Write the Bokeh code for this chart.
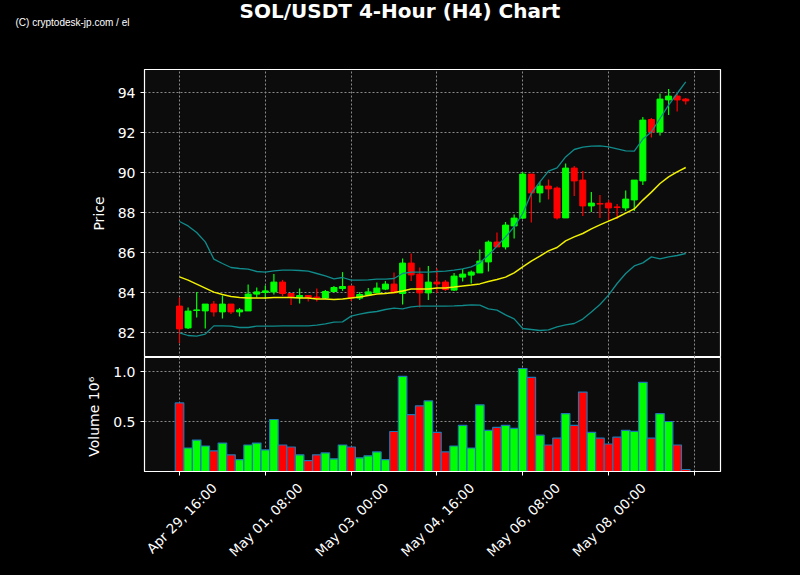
import numpy as np
import pandas as pd
from math import pi
from bokeh.plotting import figure
from bokeh.layouts import column
from bokeh.models import (ColumnDataSource, FixedTicker, Range1d, Label, LinearAxis,
                          NumeralTickFormatter, GlobalInlineStyleSheet)
from bokeh.embed import file_html
from bokeh.resources import INLINE

TITLE = "SOL/USDT 4-Hour (H4) Chart"
CREDIT = "(C) cryptodesk-jp.com / el"
START = "2025-04-29 16:00"

opens = [83.32, 82.23, 83.10, 83.08, 83.42, 83.03, 83.42, 83.03, 83.08, 83.92,
         84.00, 84.03, 84.52, 83.95, 83.75, 83.85, 83.77, 83.72, 84.05, 84.20,
         84.32, 83.72, 83.87, 84.00, 84.17, 84.42, 83.95, 85.47, 84.92, 83.98,
         84.52, 84.52, 84.12, 84.77, 84.87, 84.98, 85.53, 86.52, 86.28, 87.33,
         87.72, 89.92, 88.98, 89.32, 89.22, 87.73, 90.22, 89.62, 88.33, 88.45,
         88.47, 88.28, 88.23, 88.63, 89.58, 92.65, 92.03, 93.63, 93.82, 93.67]
highs = [83.75, 83.25, 84.03, 83.42, 83.58, 83.85, 83.42, 83.22, 84.40, 84.25,
         84.35, 84.92, 84.63, 83.95, 84.20, 83.85, 84.20, 84.13, 84.33, 85.02,
         84.32, 84.03, 84.23, 84.50, 84.57, 85.00, 85.70, 85.95, 85.25, 85.33,
         85.20, 84.62, 84.98, 85.17, 85.10, 86.15, 86.60, 87.00, 87.53, 87.90,
         90.03, 89.92, 89.53, 89.65, 89.30, 90.45, 90.32, 90.08, 89.03, 88.88,
         88.62, 88.42, 89.10, 89.62, 92.78, 92.72, 93.95, 94.18, 93.95, 93.73]
lows = [81.48, 82.18, 82.75, 82.20, 82.80, 82.70, 82.92, 82.80, 83.08, 83.75,
        83.68, 83.90, 83.82, 83.37, 83.45, 83.55, 83.55, 83.67, 84.00, 84.08,
        83.58, 83.62, 83.82, 84.00, 84.12, 83.98, 83.40, 84.57, 83.25, 83.62,
        83.98, 84.08, 84.08, 84.55, 84.45, 84.98, 85.05, 86.28, 86.15, 86.70,
        87.67, 87.50, 88.50, 88.65, 87.65, 87.73, 88.82, 87.82, 88.02, 87.72,
        87.62, 87.67, 88.08, 88.07, 89.37, 91.75, 91.85, 92.87, 93.05, 93.40]
closes = [82.18, 83.07, 83.13, 83.42, 83.03, 83.42, 83.03, 83.13, 83.92, 84.03,
          84.08, 84.52, 83.95, 83.78, 83.85, 83.75, 83.72, 84.05, 84.25, 84.30,
          83.73, 83.90, 84.03, 84.22, 84.42, 83.98, 85.47, 84.88, 83.98, 84.52,
          84.43, 84.15, 84.82, 84.92, 85.02, 85.57, 86.52, 86.28, 87.37, 87.72,
          89.92, 88.98, 89.32, 89.18, 87.73, 90.22, 89.58, 88.33, 88.47, 88.42,
          88.23, 88.25, 88.67, 89.62, 92.62, 92.03, 93.67, 93.82, 93.63, 93.58]
bb_mid = [84.78, 84.62, 84.42, 84.22, 84.02, 83.90, 83.80, 83.75, 83.73, 83.73,
          83.73, 83.75, 83.75, 83.75, 83.73, 83.72, 83.68, 83.67, 83.65, 83.67,
          83.73, 83.78, 83.85, 83.92, 83.95, 84.00, 84.08, 84.17, 84.18, 84.18,
          84.22, 84.23, 84.27, 84.32, 84.37, 84.43, 84.55, 84.65, 84.77, 84.98,
          85.28, 85.57, 85.82, 86.08, 86.25, 86.58, 86.78, 86.95, 87.18, 87.38,
          87.57, 87.75, 87.97, 88.18, 88.62, 89.02, 89.45, 89.78, 90.03, 90.25]
bb_upper = [87.55, 87.33, 87.00, 86.53, 85.67, 85.45, 85.25, 85.20, 85.17, 85.05,
            85.02, 85.08, 85.12, 85.12, 85.10, 85.07, 84.95, 84.83, 84.68, 84.75,
            84.62, 84.62, 84.63, 84.67, 84.67, 84.70, 84.95, 85.02, 85.02, 85.02,
            85.05, 85.07, 85.12, 85.18, 85.28, 85.48, 85.87, 86.32, 86.78, 87.28,
            87.95, 88.95, 89.53, 90.07, 90.23, 90.78, 91.15, 91.27, 91.32, 91.33,
            91.28, 91.18, 91.08, 91.07, 91.67, 92.03, 92.70, 93.37, 93.95, 94.53]
bb_lower = [81.98, 81.85, 81.82, 81.92, 82.33, 82.33, 82.32, 82.25, 82.25, 82.32,
            82.32, 82.32, 82.33, 82.33, 82.33, 82.33, 82.37, 82.43, 82.52, 82.53,
            82.82, 82.92, 83.00, 83.05, 83.15, 83.22, 83.18, 83.28, 83.32, 83.32,
            83.32, 83.32, 83.33, 83.35, 83.38, 83.37, 83.18, 83.12, 82.88, 82.68,
            82.20, 82.15, 82.10, 82.13, 82.28, 82.38, 82.45, 82.67, 83.03, 83.40,
            83.87, 84.45, 84.95, 85.33, 85.48, 85.78, 85.68, 85.78, 85.85, 85.95]
volume_millions = [0.686, 0.235, 0.314, 0.255, 0.206, 0.284, 0.167, 0.118, 0.265, 0.284,
                   0.216, 0.520, 0.265, 0.245, 0.167, 0.108, 0.167, 0.186, 0.127, 0.265,
                   0.245, 0.137, 0.157, 0.196, 0.118, 0.400, 0.951, 0.569, 0.657, 0.706,
                   0.392, 0.196, 0.255, 0.461, 0.235, 0.667, 0.412, 0.441, 0.461, 0.431,
                   1.030, 0.941, 0.363, 0.265, 0.333, 0.578, 0.461, 0.794, 0.392, 0.333,
                   0.275, 0.343, 0.412, 0.402, 0.892, 0.333, 0.578, 0.500, 0.265, 0.020]
price_ticks = [82, 84, 86, 88, 90, 92, 94]
volume_ticks = [0.5, 1.0]
x_tick_step = 10

UP, DOWN = "#00ff00", "#ff0000"
BG, FRAME_BG = "black", "#0c0c0c"
FONT = "DejaVu Sans"
W = 800
L_BORDER, R_BORDER = 144, 80
HDR_H, PRICE_H, VOL_H = 69, 288, 218
LABEL_SHIFT = 4.05   # centre rotated date labels on their ticks (matplotlib style)

n = len(opens)
times = pd.date_range(START, periods=n, freq="4h")
idx = np.arange(n)
o = np.array(opens); c = np.array(closes)
colors = np.where(c >= o, UP, DOWN)
src = ColumnDataSource(dict(
    x=idx, high=highs, low=lows, top=np.maximum(o, c), bottom=np.minimum(o, c),
    color=colors, vol=volume_millions, mid=bb_mid, upper=bb_upper, lower=bb_lower))

x_ticks = list(range(0, n + 1, x_tick_step))
label_ticks = [t + LABEL_SHIFT for t in x_ticks if t < n]
label_map = {float(t + LABEL_SHIFT): times[t].strftime("%b %d, %H:%M") for t in x_ticks if t < n}

xr = Range1d(-4.08, 63.05)

def style(p):
    p.background_fill_color = FRAME_BG
    p.border_fill_color = BG
    p.outline_line_color = "white"
    p.outline_line_width = 1.2
    for ax in p.axis:
        ax.axis_line_color = "white"
        ax.major_tick_line_color = "white"
        ax.minor_tick_line_color = None
        ax.major_tick_in = 0
        ax.major_tick_out = 4
        ax.major_label_text_color = "white"
        ax.major_label_text_font = FONT
        ax.major_label_text_font_size = "14px"
        ax.axis_label_text_color = "white"
        ax.axis_label_text_font = FONT
        ax.axis_label_text_font_size = "14px"
        ax.axis_label_text_font_style = "normal"
    for g in p.grid:
        g.grid_line_color = "#8a8a8a"
        g.grid_line_dash = "2 2"
        g.grid_line_width = 1

# header: full-width frame (not aligned with the panels); x/y map to page pixels
hdr = figure(width=W, height=HDR_H, x_range=Range1d(0, W), y_range=Range1d(HDR_H, 0),
             x_axis_location=None, y_axis_location=None,
             toolbar_location=None, output_backend="svg", min_border=0)
hdr.frame_align = False
hdr.grid.visible = False
hdr.background_fill_color = BG
hdr.border_fill_color = BG
hdr.outline_line_color = None
hdr.add_layout(Label(x=399.5, y=10.5, text=TITLE, text_align="center",
                     text_baseline="alphabetic", text_font_size="20px",
                     text_font_style="bold", text_color="white", text_font=FONT))
hdr.add_layout(Label(x=15, y=21.5, text=CREDIT, text_align="left",
                     text_baseline="alphabetic", text_font_size="10px",
                     text_color="white", text_font="Liberation Sans"))

# price
p1 = figure(width=W, height=PRICE_H, x_range=xr, y_range=Range1d(80.75, 95.15),
            x_axis_location=None, toolbar_location=None, output_backend="svg",
            min_border_left=L_BORDER, min_border_right=R_BORDER,
            min_border_top=0, min_border_bottom=0)
p1.segment(x0="x", y0="low", x1="x", y1="high", color="color", line_width=1.2, source=src)
p1.vbar(x="x", width=0.7, top="top", bottom="bottom", fill_color="color",
        line_color="color", line_width=1, source=src)
p1.line("x", "upper", color="#108a8a", line_width=1.3, source=src)
p1.line("x", "lower", color="#108a8a", line_width=1.3, source=src)
p1.line("x", "mid", color="#f0f000", line_width=1.5, source=src)
p1.yaxis.ticker = FixedTicker(ticks=price_ticks)
p1.yaxis.axis_label = "Price"
p1.yaxis.axis_label_standoff = 8
p1.xgrid.ticker = FixedTicker(ticks=x_ticks)
style(p1)

# volume
p2 = figure(width=W, height=VOL_H, x_range=xr, y_range=Range1d(0, 1.14),
            toolbar_location=None, output_backend="svg",
            min_border_left=L_BORDER, min_border_right=R_BORDER,
            min_border_top=0, min_border_bottom=VOL_H - 114)
p2.vbar(x="x", width=1.0, top="vol", bottom=0, fill_color="color",
        line_color="#1f77b4", line_width=1.2, source=src)
p2.yaxis.ticker = FixedTicker(ticks=volume_ticks)
p2.yaxis.formatter = NumeralTickFormatter(format="0.0")
p2.yaxis.axis_label = "Volume  10\u2076"
p2.yaxis.axis_label_standoff = 8
# tick marks only
p2.xaxis.ticker = FixedTicker(ticks=x_ticks)
p2.xaxis.major_label_overrides = {int(t): "" for t in x_ticks}
p2.xaxis.major_label_standoff = 0
p2.xgrid.ticker = FixedTicker(ticks=x_ticks)
# date labels, centred on the ticks
date_axis = LinearAxis(ticker=FixedTicker(ticks=label_ticks),
                       major_label_overrides=label_map,
                       major_label_orientation=pi / 4, major_label_standoff=10)
p2.add_layout(date_axis, "below")
style(p2)
p2.xaxis[0].major_label_text_font_size = "0px"
date_axis.axis_line_color = None
date_axis.major_tick_out = 0
date_axis.major_label_text_font_size = "13.5px"

layout = column(hdr, p1, p2, spacing=0,
                stylesheets=[GlobalInlineStyleSheet(css="html, body { background-color: black; }")])

open("out.html", "w").write(file_html(layout, INLINE))
